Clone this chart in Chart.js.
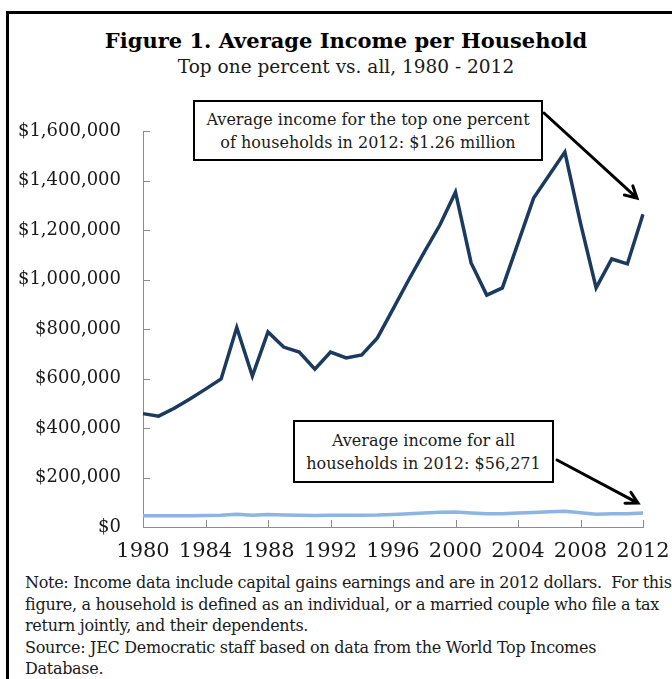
<!DOCTYPE html>
<html>
<head>
<meta charset="utf-8">
<script src="https://cdn.jsdelivr.net/npm/chart.js@4/dist/chart.umd.min.js"></script>
<style>
  html, body { margin: 0; padding: 0; background: #fff; }
  body { width: 672px; height: 679px; position: relative; overflow: hidden; font-family: "DejaVu Serif", serif; color: #1a1a1a; }
  #frame { position: absolute; left: 6px; top: 11px; width: 700px; height: 700px; border-left: 3px solid #000; border-top: 3px solid #000; }
  #title { position: absolute; left: 7px; width: 678px; top: 28px; text-align: center; font-weight: bold; font-size: 21px; color: #000; }
  #subtitle { position: absolute; left: 7px; width: 678px; top: 56px; text-align: center; font-size: 18.5px; }
  .box { position: absolute; border: 2px solid #000; background: #fff; text-align: center; font-size: 16px; line-height: 23px; box-sizing: border-box; }
  #box1 { left: 193px; top: 100px; width: 350px; height: 61px; padding-top: 6px; }
  #box2 { left: 293px; top: 420px; width: 261px; height: 63px; padding-top: 7px; }
  #note { position: absolute; left: 25px; top: 572px; font-size: 16px; line-height: 21.5px; white-space: nowrap; letter-spacing: -0.3px; }
  canvas { position: absolute; left: 0; top: 0; }
</style>
</head>
<body>
<div id="frame"></div>
<div id="title">Figure 1. Average Income per Household</div>
<div id="subtitle">Top one percent vs. all, 1980 - 2012</div>
<div style="position:absolute;left:0;top:0;width:672px;height:572px;"><canvas id="chart"></canvas></div>
<div class="box" id="box1">Average income for the top one percent<br>of households in 2012: $1.26 million</div>
<div class="box" id="box2">Average income for all<br>households in 2012: $56,271</div>
<div id="note">Note: Income data include capital gains earnings and are in 2012 dollars.&nbsp; For this<br>figure, a household is defined as an individual, or a married couple who file a tax<br>return jointly, and their dependents.<br>Source: JEC Democratic staff based on data from the World Top Incomes<br>Database.</div>
<script>
const years = [];
for (let y = 1980; y <= 2012; y++) years.push(String(y));

// average income, top one percent of households (2012 dollars)
const topOnePercent = [
  458000, 448000, 480000, 517000, 557000, 598000, 806000, 610000, 788000, 727000,
  707000, 638000, 707000, 683000, 695000, 764000, 880000, 998000, 1111000, 1220000,
  1353000, 1067000, 937000, 966000, 1147000, 1329000, 1422000, 1515000, 1228000, 966000,
  1083000, 1063000, 1264000
];

// average income, all households
const allHouseholds = [
  45000, 45000, 45000, 45000, 46000, 47000, 51000, 47000, 50000, 48000,
  47000, 46000, 47000, 47000, 47000, 48000, 51000, 54000, 57000, 60000,
  61000, 57000, 54000, 54000, 57000, 59000, 62000, 64000, 58000, 52000,
  54000, 54000, 56271
];

const yTicks = [0, 200000, 400000, 600000, 800000, 1000000, 1200000, 1400000, 1600000];

function money(v) {
  return '$' + v.toLocaleString('en-US');
}

function arrow(ctx, x1, y1, x2, y2) {
  const a = Math.atan2(y2 - y1, x2 - x1);
  const h = 13;
  ctx.beginPath();
  ctx.moveTo(x1, y1);
  ctx.lineTo(x2, y2);
  ctx.moveTo(x2 - h * Math.cos(a - 0.5), y2 - h * Math.sin(a - 0.5));
  ctx.lineTo(x2, y2);
  ctx.lineTo(x2 - h * Math.cos(a + 0.5), y2 - h * Math.sin(a + 0.5));
  ctx.stroke();
}

// inside tick marks and the two callout arrows
const extras = {
  id: 'extras',
  afterDraw(chart) {
    const ctx = chart.ctx;
    const xs = chart.scales.x, ys = chart.scales.y;
    const area = chart.chartArea;
    ctx.save();
    ctx.strokeStyle = '#8c8c8c';
    ctx.lineWidth = 1;
    ctx.beginPath();
    yTicks.forEach(v => {
      const y = Math.round(ys.getPixelForValue(v)) + 0.5;
      ctx.moveTo(area.left, y);
      ctx.lineTo(area.left + 7, y);
    });
    years.forEach((yr, i) => {
      if (i % 4 !== 0 || i === 0) return;
      const x = Math.round(xs.getPixelForValue(i)) + 0.5;
      ctx.moveTo(x, area.bottom);
      ctx.lineTo(x, area.bottom - 7);
    });
    ctx.stroke();

    const last = years.length - 1;
    ctx.strokeStyle = '#000';
    ctx.lineWidth = 3;
    ctx.lineCap = 'round';
    arrow(ctx, 544, 113, xs.getPixelForValue(last) - 6, ys.getPixelForValue(topOnePercent[last]) - 16);
    arrow(ctx, 557, 460, xs.getPixelForValue(last) - 5, ys.getPixelForValue(allHouseholds[last]) - 10);
    ctx.restore();
  }
};

new Chart(document.getElementById('chart'), {
  type: 'line',
  data: {
    labels: years,
    datasets: [{
      label: 'Top one percent',
      data: topOnePercent,
      borderColor: '#1b3a60',
      borderWidth: 3.5,
      pointRadius: 0,
      tension: 0
    }, {
      label: 'All households',
      data: allHouseholds,
      borderColor: '#8db4e2',
      borderWidth: 3.5,
      pointRadius: 0,
      tension: 0
    }]
  },
  options: {
    responsive: true,
    maintainAspectRatio: false,
    animation: false,
    layout: { padding: { top: 131, right: 29, left: 0, bottom: 0 } },
    plugins: { legend: { display: false }, tooltip: { enabled: false } },
    scales: {
      x: {
        grid: { display: false, drawTicks: false },
        border: { color: '#8c8c8c', width: 1 },
        afterFit(s) { s.height = 45; s.paddingLeft = 0; s.paddingRight = 0; },
        ticks: {
          autoSkip: false,
          maxRotation: 0,
          padding: 12,
          color: '#1a1a1a',
          font: { family: 'DejaVu Serif', size: 21 },
          callback(v, i) { return i % 4 === 0 ? years[i] : ''; }
        }
      },
      y: {
        min: 0,
        max: 1600000,
        afterFit(s) { s.width = 143; },
        afterBuildTicks(s) { s.ticks = yTicks.map(v => ({ value: v })); },
        grid: { display: false, drawTicks: false },
        border: { color: '#8c8c8c', width: 1 },
        ticks: {
          padding: 22,
          color: '#1a1a1a',
          font: { family: 'DejaVu Serif', size: 18 },
          callback(v) { return money(v); }
        }
      }
    }
  },
  plugins: [extras]
});
</script>
</body>
</html>
